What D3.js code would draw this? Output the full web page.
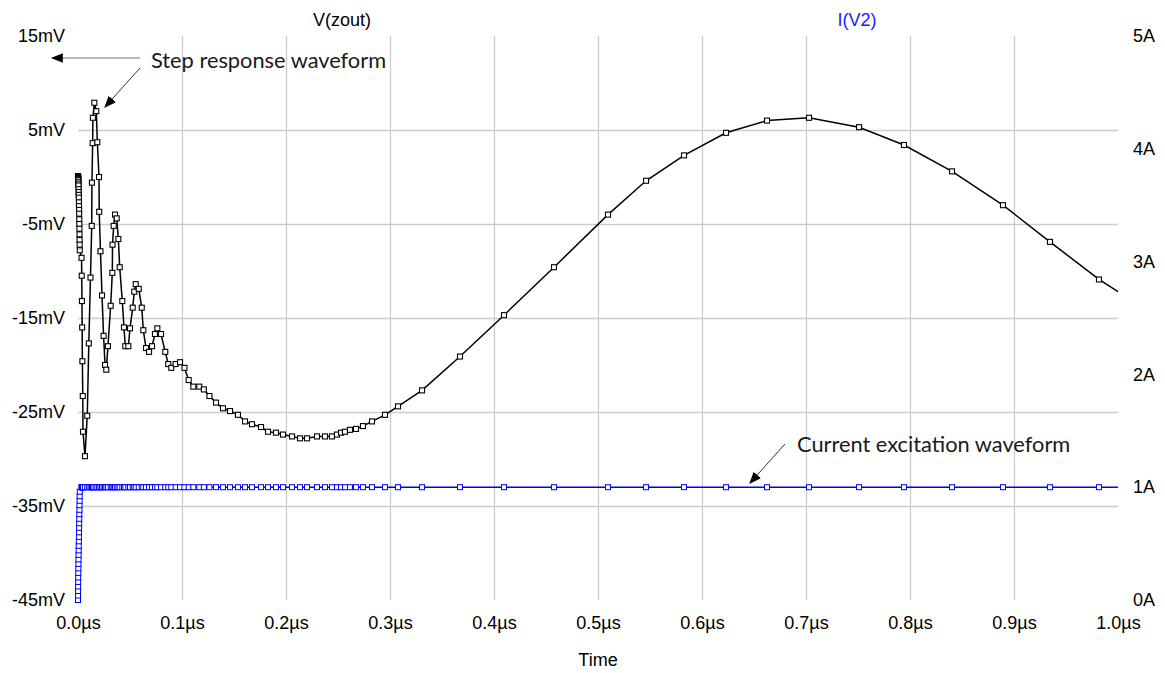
<!DOCTYPE html>
<meta charset="utf-8">
<style>
body { margin: 0; background: #fff; }
.axis text { font-family: "Liberation Sans", Arial, sans-serif; font-size: 18px; fill: #000; }
.axis .domain { display: none; }
.grid line { stroke: #cccccc; stroke-width: 1.3px; }
.grid .domain { display: none; }
.grid text { display: none; }
.note { font-family: Lato, "Open Sans", sans-serif; font-size: 21.8px; fill: #1a1a1a; }
</style>
<svg width="1165" height="673"></svg>
<script src="https://d3js.org/d3.v7.min.js"></script>
<script>

// simulation time steps (µs), shared by both traces
var timeUs = [
  0, 0.00003, 0.00006, 0.0001, 0.00014, 0.0002, 0.00026, 0.00033, 0.0004, 0.00048,
  0.00056, 0.00064, 0.00072, 0.0008, 0.00088, 0.00096, 0.00104, 0.00112, 0.0012, 0.00128,
  0.00136, 0.00144, 0.00152, 0.0016, 0.0017,
  0.0034, 0.0036, 0.0038, 0.0040, 0.0042, 0.0046, 0.0048, 0.0067, 0.0089, 0.0104,
  0.0120, 0.0132, 0.0134, 0.0141, 0.0143, 0.0157, 0.0176, 0.0186, 0.0202, 0.0204,
  0.0216, 0.0231, 0.0246, 0.0260, 0.0272, 0.0288, 0.0314, 0.0330, 0.0332, 0.0343,
  0.0356, 0.0372, 0.0388, 0.0401, 0.0426, 0.0442, 0.0455, 0.0484, 0.0500, 0.0526,
  0.0541, 0.0555, 0.0584, 0.0613, 0.0628, 0.0654, 0.0683, 0.0712, 0.0740, 0.0763,
  0.0798, 0.0839, 0.0868, 0.0897, 0.0939, 0.0981, 0.1024, 0.1064, 0.1109, 0.1166,
  0.1210, 0.1264, 0.1327, 0.1394, 0.1462, 0.1538, 0.1606, 0.1673, 0.1760, 0.1827,
  0.1904, 0.1971, 0.2058, 0.2135, 0.2202, 0.2298, 0.2375, 0.2442, 0.2490, 0.2529,
  0.2567, 0.2615, 0.2673, 0.2740, 0.2827, 0.2952, 0.3077, 0.3308, 0.3673, 0.4096,
  0.4577, 0.5096, 0.5462, 0.5827, 0.6231, 0.6625, 0.7029, 0.7510, 0.7942, 0.8404,
  0.8894, 0.9346, 0.9817, 1.0
];

// V(zout) in mV
var vzout = [
  0.1, 0.05, 0.0, -0.05, -0.1, -0.2, -0.3, -0.5, -0.7, -0.9,
  -1.3, -1.6, -1.9, -2.2, -2.7, -3.1, -3.5, -3.9, -4.5, -5.0,
  -5.5, -6.1, -6.7, -7.2, -7.8,
  -8.6, -10.5, -13.2, -16.0, -19.6, -23.3, -27.1, -29.7, -25.4, -17.7,
  -10.7, -5.2, -0.6, 3.6, 6.3, 7.9, 7.0, 3.7, 0.0, -3.7,
  -7.9, -12.6, -16.9, -20.0, -20.5, -18.0, -13.7, -10.2, -7.2, -5.2,
  -4.0, -4.4, -6.6, -9.6, -13.2, -16.0, -18.0, -18.0, -16.1, -13.9,
  -12.2, -11.4, -11.9, -13.9, -16.3, -18.2, -18.6, -18.0, -16.7, -16.1,
  -16.7, -18.6, -19.9, -20.3, -19.9, -19.7, -20.3, -21.6, -22.3, -22.3,
  -22.6, -23.3, -24.0, -24.6, -24.9, -25.3, -26.0, -26.3, -26.6, -27.1,
  -27.2, -27.4, -27.6, -27.8, -27.8, -27.6, -27.6, -27.6, -27.4, -27.2,
  -27.1, -26.9, -26.8, -26.5, -26.0, -25.3, -24.4, -22.7, -19.1, -14.7,
  -9.6, -4.0, -0.4, 2.3, 4.7, 6.0, 6.3, 5.3, 3.4, 0.6,
  -3.0, -6.9, -10.9, -12.2
];

// I(V2) in A
var iv2 = [
  0, 0.04, 0.08, 0.12, 0.16, 0.2, 0.24, 0.28, 0.32, 0.36,
  0.4, 0.44, 0.48, 0.52, 0.56, 0.6, 0.64, 0.68, 0.72, 0.76,
  0.8, 0.84, 0.88, 0.92, 0.96,
  1, 1, 1, 1, 1, 1, 1, 1, 1, 1, 1, 1, 1, 1, 1, 1, 1, 1, 1, 1,
  1, 1, 1, 1, 1, 1, 1, 1, 1, 1, 1, 1, 1, 1, 1, 1, 1, 1, 1, 1,
  1, 1, 1, 1, 1, 1, 1, 1, 1, 1, 1, 1, 1, 1, 1, 1, 1, 1, 1, 1,
  1, 1, 1, 1, 1, 1, 1, 1, 1, 1, 1, 1, 1, 1, 1, 1, 1, 1, 1, 1,
  1, 1, 1, 1, 1, 1, 1, 1, 1, 1, 1, 1, 1, 1, 1, 1, 1, 1, 1, 1,
  1, 1, 1, 1
];

var timeTicks = [0, 0.1, 0.2, 0.3, 0.4, 0.5, 0.6, 0.7, 0.8, 0.9, 1.0];
var timeGrid = [0.1, 0.2, 0.3, 0.4, 0.5, 0.6, 0.7, 0.8, 0.9];
var mvTicks = [15, 5, -5, -15, -25, -35, -45];
var mvGrid = [5, -5, -15, -25, -35];
var ampTicks = [0, 1, 2, 3, 4, 5];

var svg = d3.select("svg");
var plotLeft = 78, plotTop = 36, plotW = 1040, plotH = 564;

var x = d3.scaleLinear().domain([0, 1]).range([plotLeft, plotLeft + plotW]);
var yV = d3.scaleLinear().domain([-45, 15]).range([plotTop + plotH, plotTop]);
var yI = d3.scaleLinear().domain([0, 5]).range([plotTop + plotH, plotTop]);

svg.append("rect").attr("width", "100%").attr("height", "100%").attr("fill", "#fff");

// grid
svg.append("g").attr("class", "grid")
   .attr("transform", "translate(0," + (plotTop + plotH) + ")")
   .call(d3.axisBottom(x).tickValues(timeGrid).tickSize(-plotH));
svg.append("g").attr("class", "grid")
   .attr("transform", "translate(" + plotLeft + ",0)")
   .call(d3.axisLeft(yV).tickValues(mvGrid).tickSize(-plotW));

// axes
svg.append("g").attr("class", "axis")
   .attr("transform", "translate(0," + (plotTop + plotH) + ")")
   .call(d3.axisBottom(x).tickValues(timeTicks).tickSize(0).tickPadding(16)
     .tickFormat(function(d) { return d3.format(".1f")(d) + "µs"; }));
svg.append("g").attr("class", "axis")
   .attr("transform", "translate(" + plotLeft + ",0)")
   .call(d3.axisLeft(yV).tickValues(mvTicks).tickSize(0).tickPadding(13)
     .tickFormat(function(d) { return d + "mV"; }));
svg.append("g").attr("class", "axis")
   .attr("transform", "translate(" + (plotLeft + plotW) + ",0)")
   .call(d3.axisRight(yI).tickValues(ampTicks).tickSize(0).tickPadding(15)
     .tickFormat(function(d) { return d + "A"; }));

svg.selectAll(".axis .tick line").remove();

// titles
var titleFont = "'Liberation Sans', Arial, sans-serif";
svg.append("text").attr("x", 342).attr("y", 26)
   .attr("text-anchor", "middle")
   .style("font-family", titleFont).style("font-size", "18px")
   .text("V(zout)");
svg.append("text").attr("x", 857).attr("y", 26)
   .attr("text-anchor", "middle").attr("fill", "#1a1aff")
   .style("font-family", titleFont).style("font-size", "18px")
   .text("I(V2)");
svg.append("text").attr("x", 598).attr("y", 666)
   .attr("text-anchor", "middle")
   .style("font-family", titleFont).style("font-size", "18px")
   .text("Time");

// traces
var pts = timeUs.map(function(t, i) { return { t: t, v: vzout[i], a: iv2[i], i: i }; });
var last = pts.length - 1;

var lineV = d3.line().x(function(d) { return x(d.t); }).y(function(d) { return yV(d.v); });
var lineI = d3.line().x(function(d) { return x(d.t); }).y(function(d) { return yI(d.a); });

svg.append("path").datum(pts).attr("d", lineI)
   .attr("fill", "none").attr("stroke", "#0000ff").attr("stroke-width", 1.6);
svg.append("path").datum(pts).attr("d", lineV)
   .attr("fill", "none").attr("stroke", "#000").attr("stroke-width", 1.5);

var ms = 5;
svg.append("g").selectAll("rect")
   .data(pts.filter(function(d) { return d.i < last; }))
   .enter().append("rect")
   .attr("x", function(d) { return x(d.t) - ms / 2; })
   .attr("y", function(d) { return yI(d.a) - ms / 2; })
   .attr("width", ms).attr("height", ms)
   .attr("fill", "#fff").attr("stroke", "#0000ff").attr("stroke-width", 1);
svg.append("g").selectAll("rect")
   .data(pts.filter(function(d) { return d.i < last; }))
   .enter().append("rect")
   .attr("x", function(d) { return x(d.t) - ms / 2; })
   .attr("y", function(d) { return yV(d.v) - ms / 2; })
   .attr("width", ms).attr("height", ms)
   .attr("fill", "#fff").attr("stroke", "#000").attr("stroke-width", 1.1);

// annotations
var defs = svg.append("defs");
defs.append("marker").attr("id", "head").attr("viewBox", "0 0 10 10")
    .attr("refX", 9).attr("refY", 5).attr("markerWidth", 12).attr("markerHeight", 12)
    .attr("markerUnits", "userSpaceOnUse").attr("orient", "auto")
    .append("path").attr("d", "M0,1 L10,5 L0,9 z").attr("fill", "#000");

svg.append("line").attr("x1", 140).attr("y1", 58).attr("x2", 52).attr("y2", 58)
   .attr("stroke", "#a0a0a0").attr("stroke-width", 1.5).attr("marker-end", "url(#head)");
svg.append("line").attr("x1", 140).attr("y1", 68).attr("x2", 105).attr("y2", 107)
   .attr("stroke", "#333").attr("stroke-width", 1).attr("marker-end", "url(#head)");
svg.append("line").attr("x1", 785).attr("y1", 444).attr("x2", 750).attr("y2", 483)
   .attr("stroke", "#333").attr("stroke-width", 1).attr("marker-end", "url(#head)");

svg.append("text").attr("class", "note").attr("x", 151).attr("y", 68).text("Step response waveform");
svg.append("text").attr("class", "note").attr("x", 797).attr("y", 452).text("Current excitation waveform");

</script>
